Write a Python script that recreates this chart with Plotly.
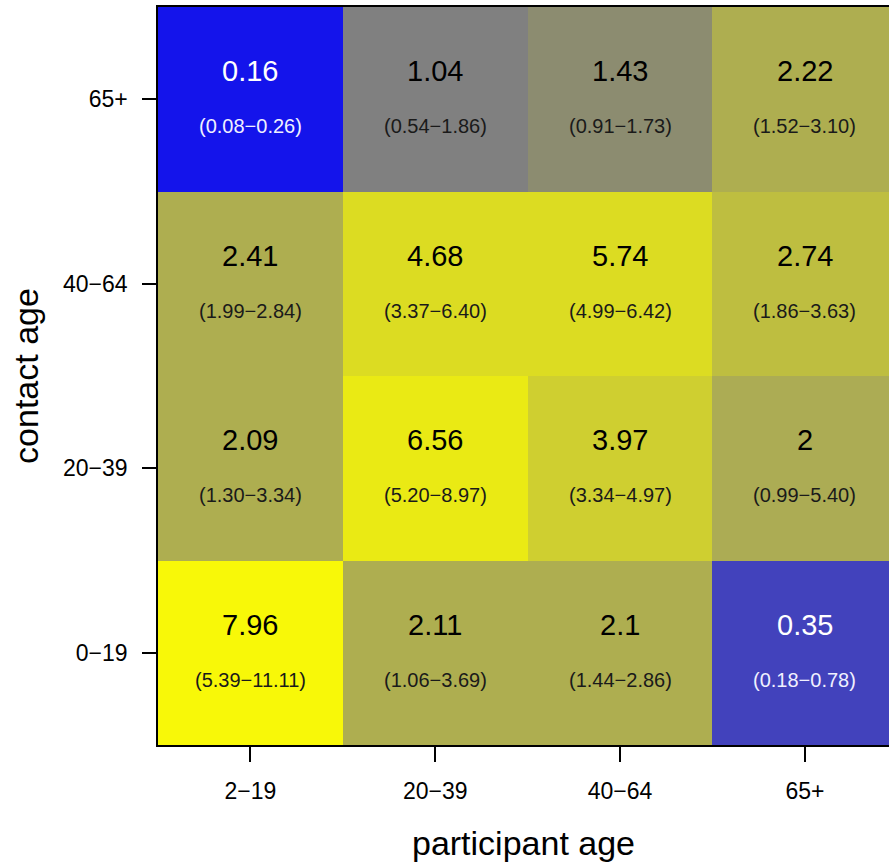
import plotly.graph_objects as go

# Age groups
participant_ages = ["2−19", "20−39", "40−64", "65+"]
contact_ages = ["0−19", "20−39", "40−64", "65+"]

# Mean contacts: rows = contact age (bottom to top), columns = participant age
mean_contacts = [
    [7.96, 2.11, 2.1, 0.35],
    [2.09, 6.56, 3.97, 2],
    [2.41, 4.68, 5.74, 2.74],
    [0.16, 1.04, 1.43, 2.22],
]
ci_low = [
    [5.39, 1.06, 1.44, 0.18],
    [1.30, 5.20, 3.34, 0.99],
    [1.99, 3.37, 4.99, 1.86],
    [0.08, 0.54, 0.91, 1.52],
]
ci_high = [
    [11.11, 3.69, 2.86, 0.78],
    [3.34, 8.97, 4.97, 5.40],
    [2.84, 6.40, 6.42, 3.63],
    [0.26, 1.86, 1.73, 3.10],
]

# Colour map: blue (few contacts) through grey to yellow (many contacts)
color_map = [
    (0.16, "#1414EB"),
    (0.35, "#4242BC"),
    (1.04, "#808080"),
    (1.43, "#8C8C70"),
    (2.00, "#ACAC54"),
    (2.09, "#AEAE50"),
    (2.41, "#AEAE50"),
    (2.74, "#BEBE40"),
    (3.97, "#CFCF30"),
    (4.68, "#DCDC22"),
    (5.74, "#DCDC22"),
    (6.56, "#EAEA14"),
    (7.96, "#F8F808"),
]
zmin, zmax = color_map[0][0], color_map[-1][0]
colorscale = [[(v - zmin) / (zmax - zmin), c] for v, c in color_map]

FONT = "Liberation Sans, Arial, sans-serif"

fig = go.Figure(
    go.Heatmap(
        z=mean_contacts,
        x=list(range(len(participant_ages))),
        y=list(range(len(contact_ages))),
        colorscale=colorscale,
        zmin=zmin,
        zmax=zmax,
        showscale=False,
        hoverinfo="skip",
    )
)

annotations = []
for i in range(len(contact_ages)):
    for j in range(len(participant_ages)):
        v = mean_contacts[i][j]
        light = v < 0.5
        main_col = "#FFFFFF" if light else "#000000"
        sub_col = "#F0F0FF" if light else "#1A1A1A"
        annotations.append(dict(
            x=j, y=i, xref="x", yref="y", text=f"{v:g}", showarrow=False,
            yshift=28, font=dict(family=FONT, size=29, color=main_col),
        ))
        annotations.append(dict(
            x=j, y=i, xref="x", yref="y",
            text=f"({ci_low[i][j]:.2f}−{ci_high[i][j]:.2f})", showarrow=False,
            yshift=-27, font=dict(family=FONT, size=20, color=sub_col),
        ))

fig.update_layout(
    width=889,
    height=864,
    margin=dict(l=158, r=0, t=7, b=119),
    paper_bgcolor="white",
    plot_bgcolor="white",
    font=dict(family=FONT, color="#000000"),
    annotations=annotations,
)

fig.update_xaxes(
    range=[-0.5, 3.455],
    tickvals=list(range(len(participant_ages))),
    ticktext=participant_ages,
    ticks="outside",
    ticklen=15,
    tickwidth=1.5,
    tickcolor="black",
    ticklabelstandoff=10,
    tickfont=dict(family=FONT, size=23, color="black"),
    showline=True,
    linecolor="black",
    linewidth=1.5,
    mirror=True,
    showgrid=False,
    zeroline=False,
    title=dict(text="participant age", font=dict(family=FONT, size=34, color="black"), standoff=28),
)
fig.update_yaxes(
    range=[-0.5, 3.5],
    tickvals=list(range(len(contact_ages))),
    ticktext=contact_ages,
    ticks="outside",
    ticklen=14,
    tickwidth=1.5,
    tickcolor="black",
    ticklabelstandoff=10,
    tickfont=dict(family=FONT, size=23, color="black"),
    showline=True,
    linecolor="black",
    linewidth=1.5,
    showgrid=False,
    zeroline=False,
    title=dict(text="contact age", font=dict(family=FONT, size=34, color="black"), standoff=14),
)

fig.write_html("out.html")
